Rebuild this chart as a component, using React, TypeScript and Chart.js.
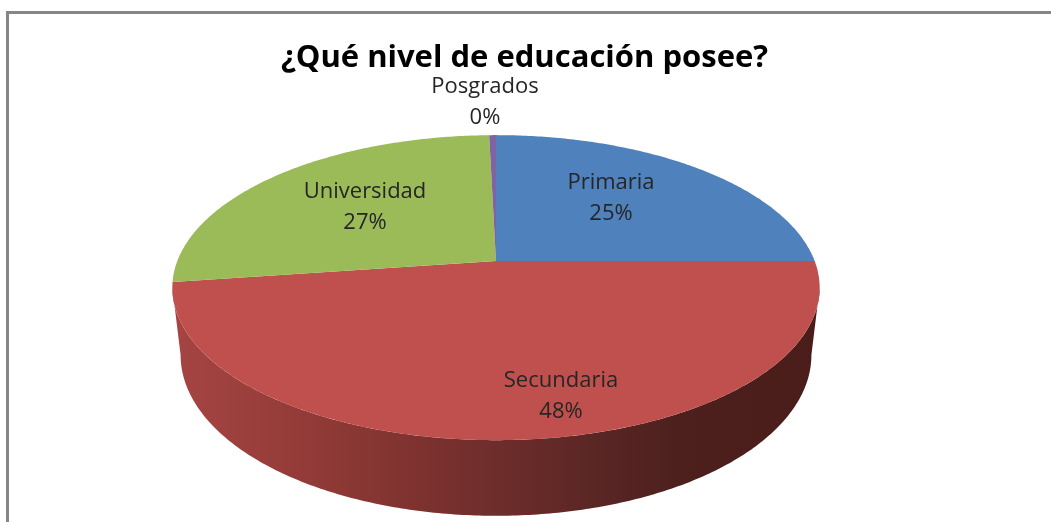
import React, { useEffect, useRef } from "react";
import { Chart, registerables, ArcElement, PieController } from "chart.js";

const titleText = "¿Qué nivel de educación posee?";
const categories = ["Primaria", "Secundaria", "Universidad", "Posgrados"];
const shares = [25, 47.8, 26.8, 0.4];
const sliceColors = ["#4f81bd", "#c0504d", "#9bbb59", "#8064a2"];

// Perspective of the 3D pie, as multiples of the outer radius Chart.js computes.
const TILT = 0.174;
const TOP_PLANE = { ax: 2.155, by: 1, dy: 0 };
const BOTTOM_PLANE = { ax: 2.1, by: 1.054, dy: 0.446 };
const WALL_STOPS: [number, string][] = [
  [0, "#a64543"],
  [0.2, "#933b38"],
  [0.36, "#803330"],
  [0.5, "#6e2d2b"],
  [0.66, "#592624"],
  [0.78, "#4d201e"],
  [1, "#4a1d1b"],
];

// Text-block centres of the value labels, as Excel placed them.
const labelCenters = [
  [611, 198],
  [561, 396],
  [365, 207],
  [485, 102],
];
const LABEL_LINE_GAP = 31;
const TEXT_FONT = '"Open Sans", sans-serif';

type Plane = typeof TOP_PLANE;

function project(arc: any, theta: number, f: number, plane: Plane) {
  const r = arc.outerRadius;
  const u = Math.sin(theta) * f;
  const v = -Math.cos(theta) * f;
  const w = 1 - TILT * v;
  return {
    x: arc.x + (plane.ax * r * u) / w,
    y: arc.y + plane.dy * r + (plane.by * r * v) / w,
  };
}

const norm = (a: number) => a + Math.PI / 2;

class PerspectiveArc extends ArcElement {
  static id = "perspectiveArc";

  draw(ctx: CanvasRenderingContext2D) {
    const a0 = norm(this.startAngle);
    const a1 = norm(this.endAngle);
    const n = Math.max(2, Math.ceil((a1 - a0) * 90));
    ctx.save();
    ctx.beginPath();
    ctx.moveTo(this.x, this.y);
    for (let i = 0; i <= n; i++) {
      const p = project(this, a0 + ((a1 - a0) * i) / n, 1, TOP_PLANE);
      ctx.lineTo(p.x, p.y);
    }
    ctx.closePath();
    ctx.fillStyle = this.options.backgroundColor as string;
    ctx.fill();
    ctx.restore();
  }

  drawWall(ctx: CanvasRenderingContext2D) {
    // Only the part of the rim that faces the viewer has a visible wall.
    const visStart = Math.acos(-TILT);
    const visEnd = 2 * Math.PI - visStart;
    const a0 = Math.max(norm(this.startAngle), visStart);
    const a1 = Math.min(norm(this.endAngle), visEnd);
    if (a1 <= a0) return;
    const n = Math.ceil((a1 - a0) * 90);
    const r = this.outerRadius;
    const left = this.x - TOP_PLANE.ax * r * 1.015;
    const right = this.x + TOP_PLANE.ax * r * 1.015;
    const g = ctx.createLinearGradient(left, 0, right, 0);
    WALL_STOPS.forEach(([s, c]) => g.addColorStop(s, c));
    ctx.save();
    ctx.beginPath();
    for (let i = 0; i <= n; i++) {
      const p = project(this, a0 + ((a1 - a0) * i) / n, 1, TOP_PLANE);
      if (i === 0) ctx.moveTo(p.x, p.y);
      else ctx.lineTo(p.x, p.y);
    }
    for (let i = n; i >= 0; i--) {
      const p = project(this, a0 + ((a1 - a0) * i) / n, 1, BOTTOM_PLANE);
      ctx.lineTo(p.x, p.y);
    }
    ctx.closePath();
    ctx.fillStyle = g;
    ctx.fill();
    ctx.restore();
  }
}

class Pie3DController extends PieController {
  static id = "pie3d";
  static defaults = { dataElementType: "perspectiveArc" };

  draw() {
    const ctx = this.chart.ctx;
    this.getMeta().data.forEach((el: any) => el.drawWall(ctx));
    super.draw();
  }
}

Chart.register(...registerables, PerspectiveArc, Pie3DController);

const framePlugin = {
  id: "frame",
  beforeDraw(chart: any) {
    const { ctx, width, height } = chart;
    ctx.save();
    ctx.strokeStyle = "#868686";
    ctx.lineWidth = 3;
    ctx.beginPath();
    ctx.moveTo(7.5, height);
    ctx.lineTo(7.5, 12.5);
    ctx.lineTo(width, 12.5);
    ctx.stroke();
    ctx.restore();
  },
};

const titlePlacementPlugin = {
  id: "titlePlacement",
  afterLayout(chart: any) {
    // Title centred on the frame rather than on the off-centre pie.
    if (chart.titleBlock) {
      chart.titleBlock.left = 0;
      chart.titleBlock.right = 1049;
    }
  },
};

const labelPlugin = {
  id: "pieLabels",
  afterDatasetsDraw(chart: any) {
    const { ctx } = chart;
    const values: number[] = chart.data.datasets[0].data;
    const total = values.reduce((s, v) => s + v, 0);
    ctx.save();
    ctx.font = `22px ${TEXT_FONT}`;
    ctx.fillStyle = "#262626";
    ctx.textAlign = "center";
    ctx.textBaseline = "middle";
    chart.data.labels.forEach((name: string, i: number) => {
      const [x, y] = labelCenters[i];
      ctx.fillText(name, x, y - LABEL_LINE_GAP / 2);
      ctx.fillText(`${Math.round((values[i] / total) * 100)}%`, x, y + LABEL_LINE_GAP / 2);
    });
    ctx.restore();
  },
};

export default function App() {
  const ref = useRef<HTMLCanvasElement>(null);
  useEffect(() => {
    const chart = new Chart(ref.current!, {
      type: "pie3d" as any,
      data: {
        labels: categories,
        datasets: [{ data: shares, backgroundColor: sliceColors, borderWidth: 0 }],
      },
      options: {
        responsive: false,
        animation: false,
        layout: { padding: { left: 348, right: 407, top: 0, bottom: 113 } },
        plugins: {
          legend: { display: false },
          tooltip: { enabled: false },
          title: {
            display: true,
            text: titleText,
            color: "#000000",
            font: { family: TEXT_FONT, size: 31, weight: "bold", lineHeight: 1.2 },
            padding: { top: 40, bottom: 36 },
          },
        },
      } as any,
      plugins: [framePlugin, titlePlacementPlugin, labelPlugin],
    });
    return () => chart.destroy();
  }, []);
  return (
    <div style={{ position: "fixed", left: 0, top: 0, width: 1051, height: 522, background: "#fff" }}>
      <canvas ref={ref} width={1051} height={522} style={{ display: "block" }} />
    </div>
  );
}
